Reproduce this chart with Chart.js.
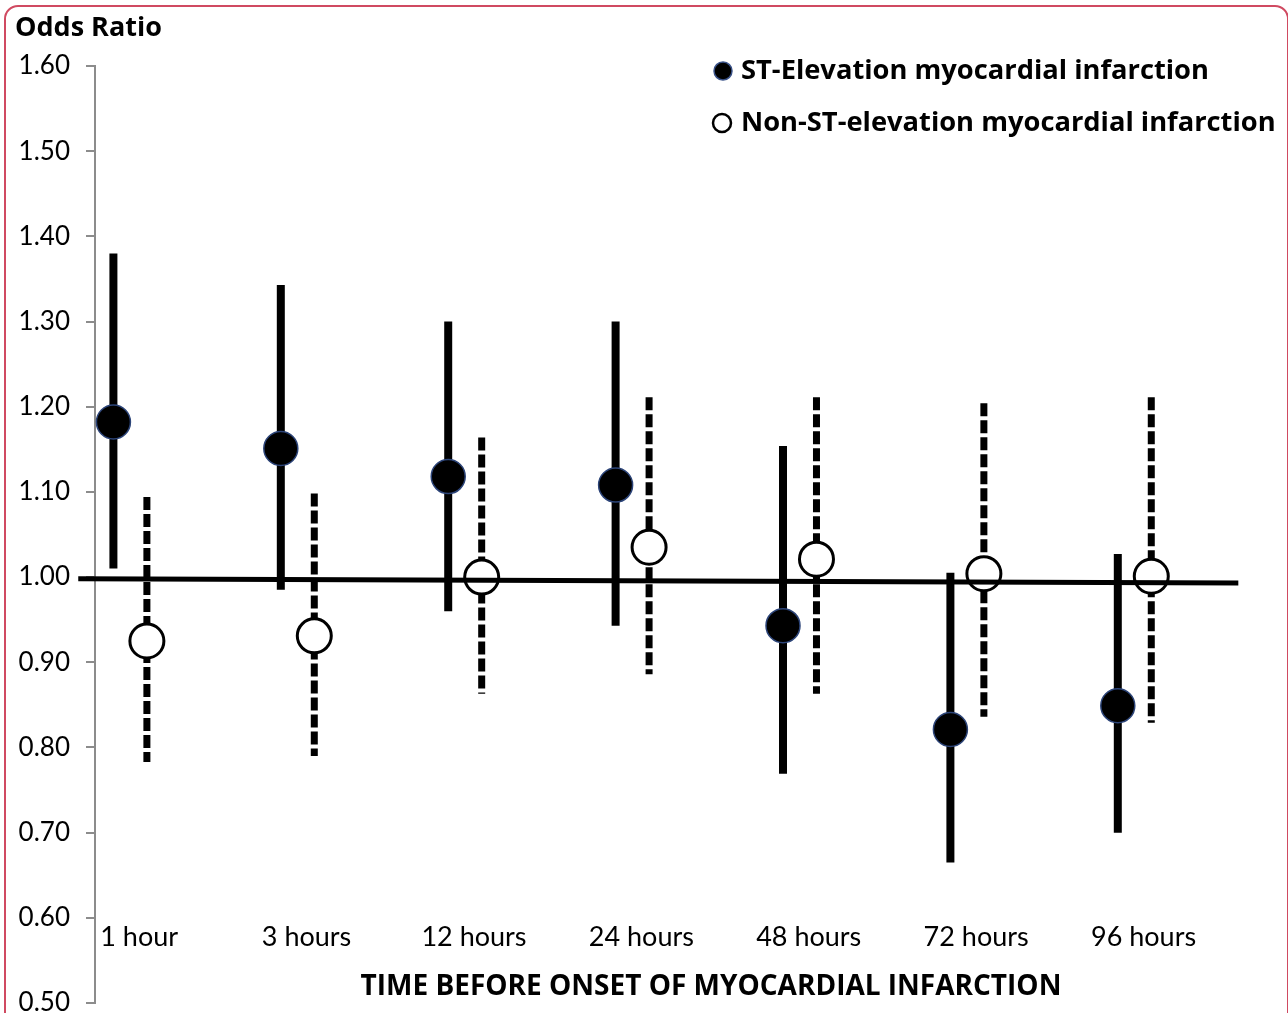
<!DOCTYPE html>
<html>
<head>
<meta charset="utf-8">
<title>Odds ratio by time before onset of myocardial infarction</title>
<script src="https://cdn.jsdelivr.net/npm/chart.js@4.4.1/dist/chart.umd.min.js"></script>
<style>
  html, body { margin: 0; padding: 0; background: #fff; overflow: hidden; }
  #wrap { position: relative; width: 1288px; height: 1013px; overflow: hidden; }
  #frame {
    position: absolute; left: 4px; top: 5px; width: 1285px; height: 1100px;
    box-sizing: border-box; border: 2px solid #d04a61; border-radius: 14px;
    pointer-events: none;
  }
  canvas { display: block; }
</style>
</head>
<body>
<div id="wrap">
  <canvas id="chart" width="1288" height="1023"></canvas>
  <div id="frame"></div>
</div>
<script>
// Time windows before symptom onset
const categories = ['1 hour', '3 hours', '12 hours', '24 hours', '48 hours', '72 hours', '96 hours'];

// ST-elevation MI: odds ratio with 95% CI
const stemiOR   = [1.182, 1.151, 1.118, 1.108, 0.943, 0.821, 0.849];
const stemiLow  = [1.010, 0.985, 0.960, 0.943, 0.769, 0.665, 0.700];
const stemiHigh = [1.380, 1.343, 1.300, 1.300, 1.154, 1.005, 1.027];

// Non-ST-elevation MI: odds ratio with 95% CI
const nstemiOR   = [0.925, 0.931, 1.000, 1.035, 1.021, 1.004, 1.001];
const nstemiLow  = [0.783, 0.790, 0.863, 0.886, 0.863, 0.836, 0.829];
const nstemiHigh = [1.094, 1.098, 1.164, 1.211, 1.211, 1.204, 1.211];

// Y axis tick range
const yMin = 0.5, yMax = 1.6, yStep = 0.1;
// Reference (no-effect) line
const refLine = { from: -0.31, to: 6.62, yStart: 0.998, yEnd: 0.993 };

const groupShift = 0.1;
const FONT = 'Lato, "Open Sans", "Liberation Sans", sans-serif';
const BOLD_FONT = '"Open Sans", Lato, "Liberation Sans", sans-serif';

const stemiPoints  = stemiOR.map((v, i) => ({ x: i - groupShift, y: v }));
const nstemiPoints = nstemiOR.map((v, i) => ({ x: i + groupShift, y: v }));

// Confidence-interval whiskers, drawn under the markers; no-effect line on top
const whiskerPlugin = {
  id: 'whiskers',
  beforeDatasetsDraw(chart) {
    const { ctx, scales: { x, y } } = chart;
    ctx.save();
    ctx.strokeStyle = '#000';
    ctx.lineCap = 'butt';
    // solid whiskers
    ctx.lineWidth = 8;
    ctx.setLineDash([]);
    stemiLow.forEach((lo, i) => {
      const px = x.getPixelForValue(i - groupShift);
      ctx.beginPath();
      ctx.moveTo(px, y.getPixelForValue(stemiHigh[i]));
      ctx.lineTo(px, y.getPixelForValue(lo));
      ctx.stroke();
    });
    // dashed whiskers
    ctx.lineWidth = 7;
    ctx.setLineDash([13, 4]);
    nstemiLow.forEach((lo, i) => {
      const px = x.getPixelForValue(i + groupShift);
      ctx.beginPath();
      ctx.moveTo(px, y.getPixelForValue(nstemiHigh[i]));
      ctx.lineTo(px, y.getPixelForValue(lo));
      ctx.stroke();
    });
    ctx.restore();
  },
  afterDatasetsDraw(chart) {
    const { ctx, scales: { x, y } } = chart;
    ctx.save();
    ctx.strokeStyle = '#000';
    ctx.lineWidth = 5;
    ctx.beginPath();
    ctx.moveTo(x.getPixelForValue(refLine.from), y.getPixelForValue(refLine.yStart));
    ctx.lineTo(x.getPixelForValue(refLine.to), y.getPixelForValue(refLine.yEnd));
    ctx.stroke();
    ctx.restore();
  }
};

// Axis titles, category labels and legend
const annotationPlugin = {
  id: 'annotations',
  afterDraw(chart) {
    const { ctx, chartArea, scales: { x } } = chart;
    ctx.save();
    ctx.fillStyle = '#000';

    // y axis title
    ctx.font = 'bold 27px ' + BOLD_FONT;
    ctx.textAlign = 'left';
    ctx.textBaseline = 'middle';
    ctx.fillText('Odds Ratio', 15, 28);

    // category labels
    ctx.font = '27px ' + FONT;
    ctx.textAlign = 'center';
    categories.forEach((c, i) => {
      ctx.fillText(c, x.getPixelForValue(i) + 9, chartArea.bottom - 66);
    });

    // x axis title
    ctx.font = 'bold 28px ' + BOLD_FONT;
    ctx.fillText('TIME BEFORE ONSET OF MYOCARDIAL INFARCTION', 711, chartArea.bottom - 16);

    // legend
    ctx.textAlign = 'left';
    ctx.font = 'bold 27.3px ' + BOLD_FONT;
    ctx.beginPath();
    ctx.arc(723, 71, 9, 0, Math.PI * 2);
    ctx.fillStyle = '#000';
    ctx.fill();
    ctx.lineWidth = 1.5;
    ctx.strokeStyle = '#3a5288';
    ctx.stroke();
    ctx.fillStyle = '#000';
    ctx.fillText('ST-Elevation myocardial infarction', 741, 71);

    ctx.beginPath();
    ctx.arc(722, 123, 9, 0, Math.PI * 2);
    ctx.fillStyle = '#fff';
    ctx.fill();
    ctx.lineWidth = 2.5;
    ctx.strokeStyle = '#000';
    ctx.stroke();
    ctx.fillStyle = '#000';
    ctx.fillText('Non-ST-elevation myocardial infarction', 741, 123);
    ctx.restore();
  }
};

new Chart(document.getElementById('chart'), {
  type: 'scatter',
  data: {
    datasets: [
      {
        label: 'ST-Elevation myocardial infarction',
        data: stemiPoints,
        pointRadius: 17,
        pointBackgroundColor: '#000',
        pointBorderColor: '#2c4478',
        pointBorderWidth: 1.5,
        clip: false
      },
      {
        label: 'Non-ST-elevation myocardial infarction',
        data: nstemiPoints,
        pointRadius: 17,
        pointBackgroundColor: '#fff',
        pointBorderColor: '#000',
        pointBorderWidth: 3,
        clip: false
      }
    ]
  },
  options: {
    responsive: false,
    animation: false,
    devicePixelRatio: 1,
    layout: { padding: { top: 66, bottom: 1, left: 0, right: 48 } },
    plugins: { legend: { display: false }, tooltip: { enabled: false } },
    scales: {
      x: { type: 'linear', min: -0.21, max: 6.63, display: false },
      y: {
        min: yMin,
        max: yMax,
        ticks: {
          stepSize: yStep,
          color: '#000',
          padding: 16,
          font: { family: FONT, size: 26 },
          callback: v => Number(v).toFixed(2)
        },
        grid: { drawOnChartArea: false, drawTicks: true, tickLength: 9, color: '#8c8c8c', lineWidth: 2 },
        border: { color: '#8c8c8c', width: 2 },
        afterFit(scale) {
          scale.width = 95;
          scale.paddingTop = 0;
          scale.paddingBottom = 0;
        }
      }
    }
  },
  plugins: [whiskerPlugin, annotationPlugin]
});
</script>
</body>
</html>
